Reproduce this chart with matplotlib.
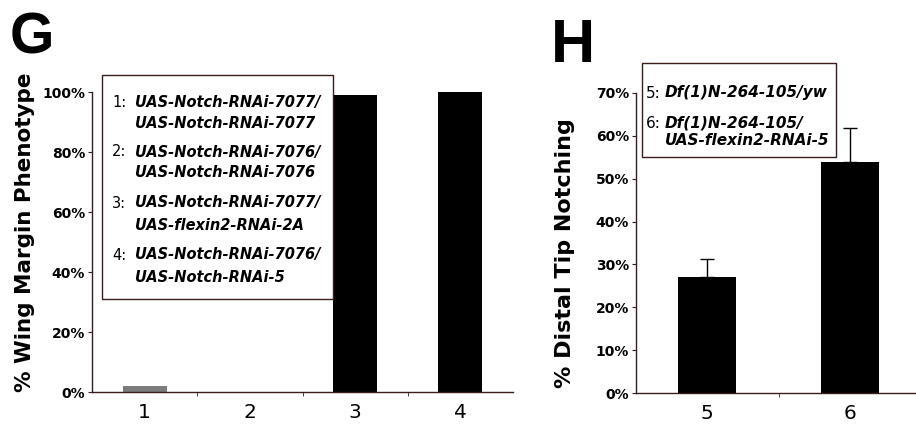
import matplotlib
matplotlib.use("Agg")
import matplotlib.pyplot as plt
from matplotlib.patches import Rectangle
from matplotlib.ticker import FuncFormatter

W, H = 916, 436

# panel G: wing margin phenotype
g_labels = ["1", "2", "3", "4"]
g_values = [2, 0, 99, 100]
g_colors = ["#7c7c7c", "black", "black", "black"]
g_legend = [
    ("1:", "UAS-Notch-RNAi-7077/", "UAS-Notch-RNAi-7077"),
    ("2:", "UAS-Notch-RNAi-7076/", "UAS-Notch-RNAi-7076"),
    ("3:", "UAS-Notch-RNAi-7077/", "UAS-flexin2-RNAi-2A"),
    ("4:", "UAS-Notch-RNAi-7076/", "UAS-Notch-RNAi-5"),
]

# panel H: distal tip notching
h_labels = ["5", "6"]
h_values = [27, 54]
h_errors = [4.3, 7.8]
h_legend = [
    ("5:", "Df(1)N-264-105/yw", None),
    ("6:", "Df(1)N-264-105/", "UAS-flexin2-RNAi-5"),
]

AXIS_COLOR = "#3a1c1c"


def fx(x):
    return x / W


def fy(y):
    return 1 - y / H


def style_axis(ax, n, ymax, step, ylabel, size, label_xy):
    for s in ("top", "right"):
        ax.spines[s].set_visible(False)
    for s in ("left", "bottom"):
        ax.spines[s].set_color(AXIS_COLOR)
        ax.spines[s].set_linewidth(1.0)
    ax.set_xlim(0, n)
    ax.set_ylim(0, ymax)
    ax.set_yticks(range(0, ymax + 1, step))
    ax.yaxis.set_major_formatter(FuncFormatter(lambda v, p: f"{v:.0f}%"))
    ax.set_xticks([i + 0.5 for i in range(n)])
    ax.set_xticks(range(1, n), minor=True)
    ax.tick_params(axis="x", which="major", length=0, pad=8, labelsize=14.5)
    ax.tick_params(axis="x", which="minor", length=3, direction="out", color=AXIS_COLOR)
    ax.tick_params(axis="y", length=3, direction="out", color=AXIS_COLOR, labelsize=10, pad=2)
    for t in ax.get_yticklabels():
        t.set_fontweight("bold")
    ax.set_ylabel(ylabel, fontsize=size, fontweight="bold")
    ax.yaxis.set_label_coords(*label_xy)


def draw_legend(fig, box, entries, x_num, x_text, y_lines, size):
    x0, y0, x1, y1 = box
    fig.add_artist(Rectangle((fx(x0), fy(y1)), fx(x1) - fx(x0), fy(y0) - fy(y1),
                             transform=fig.transFigure, fill=False,
                             edgecolor=AXIS_COLOR, linewidth=1.0))
    i = 0
    for num, line1, line2 in entries:
        fig.text(fx(x_num), fy(y_lines[i]), num, fontsize=size, va="center")
        fig.text(fx(x_text), fy(y_lines[i]), line1, fontsize=size, style="italic",
                 fontweight="bold", va="center")
        i += 1
        if line2:
            fig.text(fx(x_text), fy(y_lines[i]), line2, fontsize=size, style="italic",
                     fontweight="bold", va="center")
            i += 1


plt.rcParams["font.family"] = "DejaVu Sans"
fig = plt.figure(figsize=(W / 100, H / 100), dpi=100)

# left panel
ax1 = fig.add_axes([fx(92), fy(392), fx(513) - fx(92), fy(92) - fy(392)])
style_axis(ax1, len(g_labels), 100, 20, "% Wing Margin Phenotype", 15.5,
           (-0.135, 0.532))
ax1.bar([i + 0.5 for i in range(len(g_values))], g_values, width=0.42,
        color=g_colors, edgecolor="none")
ax1.set_xticklabels(g_labels)

# right panel
ax2 = fig.add_axes([fx(636), fy(393), fx(921) - fx(636), fy(93) - fy(393)])
style_axis(ax2, len(h_labels), 70, 10, "% Distal Tip Notching", 16,
           (-0.214, 0.468))
xs = [i + 0.5 for i in range(len(h_values))]
ax2.bar(xs, h_values, width=0.41, color="black", edgecolor="none")
ax2.errorbar(xs, h_values, yerr=[[0] * len(h_errors), h_errors], fmt="none",
             ecolor="black", elinewidth=1.0, capsize=5, capthick=1.0)
ax2.set_xticklabels(h_labels)

draw_legend(fig, (102, 75, 333, 299), g_legend, 112, 135,
            [102, 123, 152, 172, 203, 225, 255, 277], 10.5)
draw_legend(fig, (642, 63, 836, 157), h_legend, 646, 665, [93, 123, 140], 11)

fig.text(fx(10), fy(53), "G", fontsize=41, fontweight="bold",
         family="Liberation Sans", va="baseline")
fig.text(fx(551), fy(62), "H", fontsize=44, fontweight="bold",
         family="Liberation Sans", va="baseline")

fig.savefig("out.png", dpi=100)
